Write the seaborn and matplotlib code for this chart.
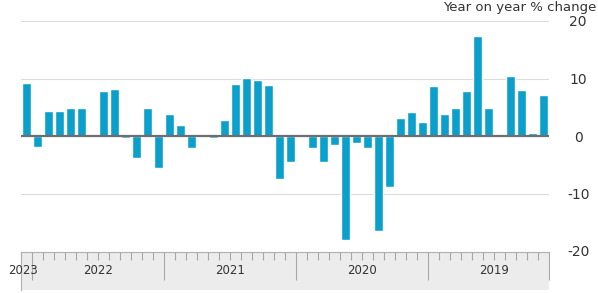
import numpy as np
import pandas as pd
import matplotlib
matplotlib.use('Agg')
import matplotlib.pyplot as plt
import seaborn as sns

# Monthly year-on-year % change, Feb 2019 -> Jan 2023
months = pd.date_range('2019-02-01', periods=48, freq='MS').strftime('%Y-%m').tolist()
pct_change = [
    7.1, 0.5, 8.0, 10.4, np.nan, 4.8, 17.4, 7.8, 4.8, 3.8, 8.7,          # 2019
    2.5, 4.2, 3.2, -8.8, -16.5, -2.1, -1.2, -18.1, -1.6, -4.6, -2.1, 0.4,  # 2020
    -4.6, -7.4, 8.8, 9.7, 10.1, 9.1, 2.8, -0.4, np.nan, -2.1, 2.0, 3.9,   # 2021
    -5.6, 4.9, -3.8, -0.4, 8.1, 7.9, 0.4, 4.8, 4.8, 4.4, 4.4, -1.9,       # 2022
    9.2,                                                                  # 2023
]
years = [2019, 2020, 2021, 2022, 2023]
y_ticks = [-20, -10, 0, 10, 20]
title = 'Year on year % change'

bar_color = '#0aa0cb'
text_color = '#333333'

sns.set_style('white')
plt.rcParams['font.family'] = ['DejaVu Sans']
plt.rcParams['axes.unicode_minus'] = False

df = pd.DataFrame({'month': months, 'pct': pct_change})
n = len(months)

fig = plt.figure(figsize=(5.98, 2.93), dpi=100)
W, H = 598, 293

# main bar panel
ax = fig.add_axes([21 / W, 1 - 251 / H, 528 / W, 230 / H])
sns.barplot(data=df, x='month', y='pct', order=months, color=bar_color,
            saturation=1, width=0.8, ax=ax)
ax.set_xlim(n - 0.5, -0.5)
ax.set_ylim(-20, 20)
ax.set_yticks(y_ticks)
ax.yaxis.tick_right()
ax.tick_params(axis='y', length=0, pad=21, labelsize=10, labelcolor=text_color)
for lbl in ax.get_yticklabels():
    lbl.set_horizontalalignment('center')
ax.set_xticks([])
ax.set_xlabel('')
ax.set_ylabel('')
for s in ax.spines.values():
    s.set_visible(False)
ax.grid(axis='y', color='#dcdcdc', lw=0.8)
ax.set_axisbelow(True)
ax.axhline(0, color='#6e6e6e', lw=1.6, zorder=5)

# time axis band
ax2 = fig.add_axes([21 / W, 1 - 290 / H, 528 / W, 38 / H])
ax2.set_facecolor('#ececec')
ax2.set_xlim(n - 0.5, -0.5)
ax2.set_ylim(0, 1)
ax2.set_yticks([])
year_starts = [months.index(f'{y}-01') - 0.5 for y in years if f'{y}-01' in months]
major = [-0.5] + year_starts
minor = [i - 0.5 for i in range(n + 1) if i - 0.5 not in major]
ax2.set_xticks(major)
ax2.set_xticks(minor, minor=True)
ax2.xaxis.set_ticks_position('top')
ax2.tick_params(axis='x', which='both', direction='in', color='#a8a8a8',
                labeltop=False, labelbottom=False, width=0.8)
ax2.tick_params(axis='x', which='major', length=20)
ax2.tick_params(axis='x', which='minor', length=5.5)
for name, s in ax2.spines.items():
    s.set_visible(name in ('top', 'left'))
    s.set_color('#b0b0b0')
    s.set_linewidth(0.8)

for y in years:
    jan = 12 * (y - 2019) - 1
    centre = min(jan + 5.5, n - 0.7)
    ax2.text(centre, 0.5, str(y), ha='center', va='center', fontsize=8.5,
             color=text_color, clip_on=False)

fig.text(0.997, 0.998, title, ha='right', va='top', fontsize=9.5, color=text_color)

fig.savefig('out.png', dpi=100)
